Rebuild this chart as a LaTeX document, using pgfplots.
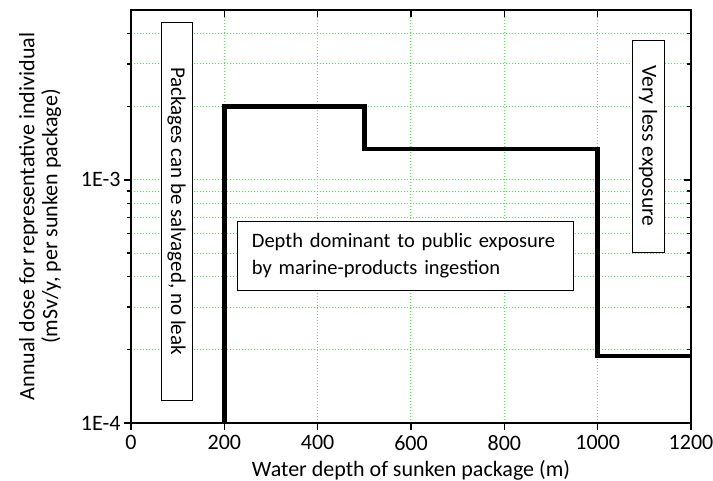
\documentclass[border=0pt]{standalone}
\usepackage{pgfplots}
\pgfplotsset{compat=1.18}
\usepackage{fontspec}
\setmainfont{Carlito}
\definecolor{gridgreen}{RGB}{80,240,80}
\begin{document}
\begin{tikzpicture}
\begin{axis}[
  width=560pt,height=413pt,scale only axis,
  xmin=0,xmax=1200,ymode=log,ymin=1e-4,ymax=5e-3,
  xtick={0,200,400,600,800,1000,1200},
  ytick={1e-4,1e-3},
  minor ytick={2e-4,3e-4,4e-4,5e-4,6e-4,7e-4,8e-4,9e-4,2e-3,3e-3,4e-3},
  major tick length=7pt, minor tick length=4pt,
  every tick/.append style={black,line width=1.2pt},
  axis line style={line width=1.5pt},
  tick label style={font=\fontsize{22}{26}\selectfont},
  xticklabel style={yshift=-2pt,/pgf/number format/assume math mode=true,/pgf/number format/1000 sep={}},
  tick align=outside, xtick pos=bottom, ytick pos=left,
  yticklabels={1E-4,1E-3},
  grid=both,
  grid style={gridgreen,line width=1pt,dash pattern=on 1pt off 2pt},
  major grid style={gridgreen,line width=1pt,dash pattern=on 1pt off 2pt},
  minor grid style={gridgreen,line width=1pt,dash pattern=on 1pt off 2pt},
  xlabel={Water depth of sunken package (m)},
  ylabel={Annual dose for representative individual\\(mSv/y, per sunken package)},
  label style={font=\fontsize{22}{23}\selectfont},
  ylabel style={align=center,yshift=13pt},
  xlabel style={yshift=-3pt},
]
\addplot[black,line width=4.5pt,line join=miter] coordinates {
  (200,1e-4) (200,2e-3) (500,2e-3) (500,1.34e-3) (1000,1.34e-3) (1000,1.89e-4) (1200,1.89e-4)
};
\node[draw,fill=white,line width=0.8pt,rotate=-90,minimum width=378pt,minimum height=31pt,inner sep=0pt,font=\fontsize{21}{24}\selectfont]
  at (axis cs:97.5,7.45e-4) {Packages can be salvaged, no leak};
\node[draw,fill=white,line width=0.8pt,rotate=-90,minimum width=212pt,minimum height=32pt,inner sep=0pt,font=\fontsize{21.5}{24}\selectfont]
  at (axis cs:1108,1.38e-3) {Very less exposure};
\node[draw,fill=white,line width=0.8pt,minimum width=335pt,minimum height=69pt,inner xsep=14pt,align=left,text width=307pt,font=\fontsize{20.5}{27}\selectfont]
  at (axis cs:588,4.89e-4) {Depth dominant to public exposure\\by marine-products ingestion};
\end{axis}
\begin{axis}[
  width=560pt,height=413pt,scale only axis,
  xmin=0,xmax=1200,ymode=log,ymin=1e-4,ymax=5e-3,
  xtick={0,200,400,600,800,1000,1200},
  ytick={1e-4,1e-3},
  minor ytick={2e-4,3e-4,4e-4,5e-4,6e-4,7e-4,8e-4,9e-4,2e-3,3e-3,4e-3},
  major tick length=7pt, minor tick length=4pt,
  every tick/.append style={black,line width=1.2pt},
  axis line style={line width=1.5pt},
  tick align=inside, xtick pos=top, ytick pos=right,
  xticklabels={}, yticklabels={},
]
\end{axis}
\pgfresetboundingbox
\path[use as bounding box] ([shift={(-131pt,-58pt)}]current axis.south west) rectangle ([shift={(22pt,10pt)}]current axis.north east);
\end{tikzpicture}
\end{document}
